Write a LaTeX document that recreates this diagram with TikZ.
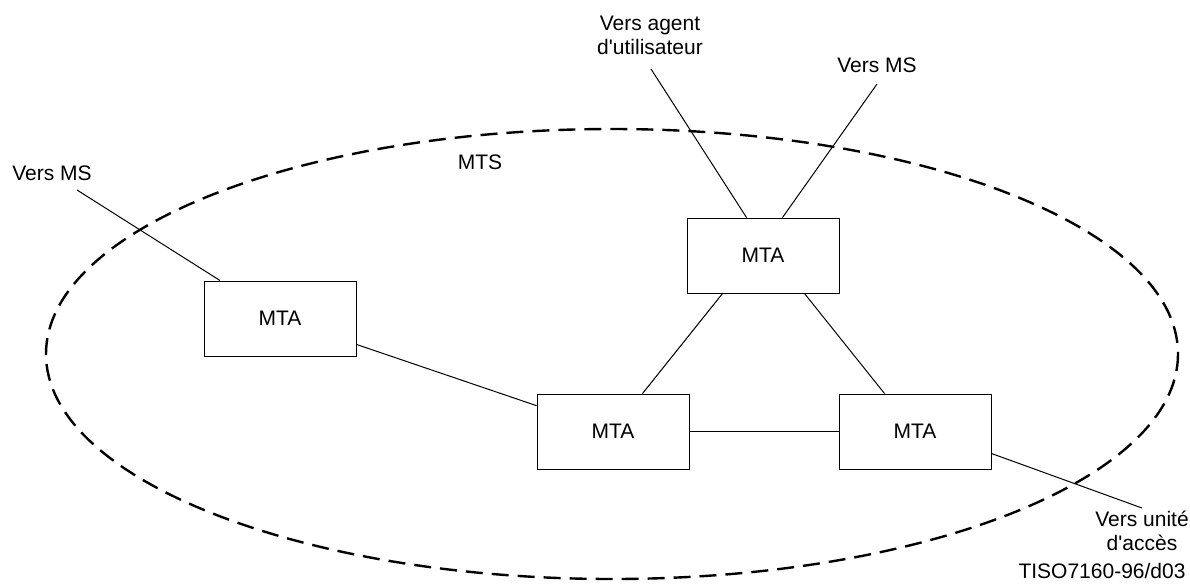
\documentclass[tikz,border=0pt]{standalone}
\usepackage{fontspec}
\setmainfont{Liberation Sans}
\usetikzlibrary{calc}
\begin{document}
\begin{tikzpicture}[x=1pt,y=-1pt,
  font=\fontsize{21}{24}\selectfont,
  mta/.style={draw, line width=1pt, minimum width=152pt, minimum height=75pt, inner sep=0pt},
  conn/.style={line width=1pt},
  lbl/.style={align=center, inner sep=0pt},
  mts/.style={line width=2.4pt, dash pattern=on 17pt off 9pt}]
\useasboundingbox (0,0) rectangle (1190,584);
\draw[mts] (612,354) ellipse [x radius=566, y radius=225];

\node[mta] (lbox) at (280,318.5) {MTA};
\node[mta] (tbox) at (763,255.5) {MTA};
\node[mta] (mbox) at (613,431.5) {MTA};
\node[mta] (rbox) at (915,431.5) {MTA};

\node[lbl] (msl) at (52,173) {Vers MS};
\node[lbl] (mtsl) at (480,162) {MTS};
\node[lbl] (ua) at (650,35) {Vers agent\\d\textquotesingle utilisateur};
\node[lbl] (msr) at (877,65) {Vers MS};
\node[lbl] (acc) at (1142,531) {Vers unité\\d\textquotesingle accès};
\node[lbl, anchor=base] (tiso) at (1102,578) {TISO7160-96/d03};

\coordinate (mslend) at (77,190);
\coordinate (uaend) at (651,69);
\coordinate (msrend) at (877,84);
\coordinate (accend) at (1142,508);

\draw[conn] (mslend) -- (lbox);
\draw[conn] (lbox) -- (mbox);
\draw[conn] (mbox) -- (rbox);
\draw[conn] ($(tbox.south west)+(36,0)$) -- ($(mbox.north west)+(106,0)$);
\draw[conn] ($(tbox.south west)+(118,0)$) -- ($(rbox.north west)+(46,0)$);
\draw[conn] (uaend) -- ($(tbox.north west)+(60,0)$);
\draw[conn] (msrend) -- ($(tbox.north west)+(96,0)$);
\draw[conn] ($(rbox.south east)+(0,-16)$) -- (accend);
\end{tikzpicture}
\end{document}
